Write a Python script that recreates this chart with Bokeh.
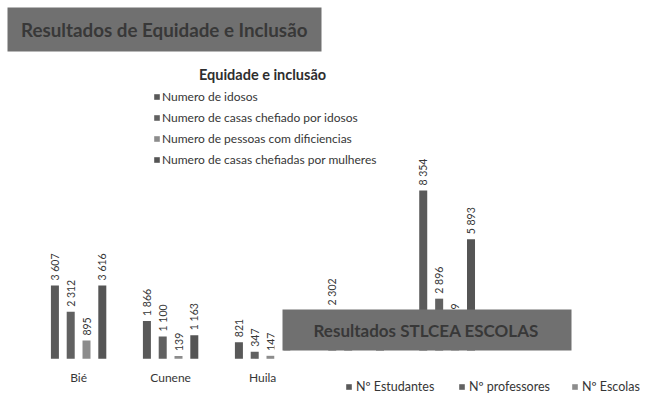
import math

from bokeh.core.properties import value
from bokeh.embed import file_html
from bokeh.models import (BoxAnnotation, ColumnDataSource, Label, Legend,
                          LegendItem, Range1d)
from bokeh.plotting import figure
from bokeh.resources import INLINE

# ---- Equidade e inclusão -------------------------------------------------
provincias = ["Bié", "Cunene", "Huila"]
eq_series = [
    "Numero de idosos",
    "Numero de casas chefiado por idosos",
    "Numero de pessoas com dificiencias",
    "Numero de casas chefiadas por mulheres",
]
idosos = [3607, 1866, 821]
casas_idosos = [2312, 1100, 347]
deficiencias = [895, 139, 147]
casas_mulheres = [3616, 1163, 420]

# ---- Resultados STLCEA escolas --------------------------------------------
stl_series = ["Nº Estudantes", "Nº professores", "Nº Escolas"]
estudantes = [2302, 8354]
professores = [640, 2896]
escolas = [12, 1039]
stl_quarta = [480, 5893]

FONT = "Lato"
TEXT = "#363636"
W, H = 651, 394


def fmt(v):
    return f"{v:,}".replace(",", " ")


p = figure(
    width=W, height=H,
    x_range=Range1d(-0.849, 6.227),
    y_range=Range1d(-1759, 17650),
    output_backend="svg", toolbar_location=None,
    x_axis_location=None, y_axis_location=None,
    min_border=0, outline_line_color=None,
    background_fill_color="white", border_fill_color="white",
)
p.grid.visible = False
p.extra_x_ranges = {"stl": Range1d(-3.908, 3.246)}
p.extra_y_ranges = {"stl": Range1d(-1944, 17955)}


def grouped_bars(values, colors, step, width, range_name=None):
    extra = {} if range_name is None else dict(x_range_name=range_name,
                                               y_range_name=range_name)
    n = len(values)
    renderers = []
    for k, (vals, color) in enumerate(zip(values, colors)):
        xs = [i + (k - (n - 1) / 2) * step for i in range(len(vals))]
        src = ColumnDataSource(dict(x=xs, top=vals, lbl=[fmt(v) for v in vals]))
        r = p.vbar(x="x", top="top", bottom=0, width=width, source=src,
                   fill_color=color, line_color=None, **extra)
        p.text(x="x", y="top", text="lbl", source=src, angle=math.pi / 2,
               text_align="left", text_baseline="middle", y_offset=-5,
               text_font=value(FONT), text_font_size="10.5px",
               text_color=TEXT, **extra)
        renderers.append(r)
    return renderers


eq_colors = ["#595959", "#616161", "#8c8c8c", "#555555"]
eq_r = grouped_bars([idosos, casas_idosos, deficiencias, casas_mulheres],
                    eq_colors, step=0.1717, width=0.087)

# category names under the first chart
p.text(x=list(range(len(provincias))), y=[0] * len(provincias), text=provincias,
       y_offset=19, text_align="center", text_baseline="middle",
       text_font=value(FONT), text_font_size="12px", text_color=TEXT)

stl_colors = ["#5a5a5a", "#626262", "#8c8c8c", "#555555"]
stl_r = grouped_bars([estudantes, professores, escolas, stl_quarta],
                     stl_colors, step=0.175, width=0.088, range_name="stl")


def screen_box(left, right, top, bottom, color):
    p.add_layout(BoxAnnotation(
        left=left, right=right, top=H - top, bottom=H - bottom,
        left_units="screen", right_units="screen",
        top_units="screen", bottom_units="screen",
        fill_color=color, fill_alpha=1, line_color=None))


def title_box(left, right, top, bottom, text, tx, size):
    screen_box(left, right, top, bottom, "#707070")
    p.add_layout(Label(
        x=tx, y=H - (top + bottom) / 2, x_units="screen", y_units="screen",
        text=text, text_font=FONT, text_font_style="bold",
        text_font_size=size, text_color="#383838",
        text_align="left", text_baseline="middle"))


title_box(7, 321, 7, 51, "Resultados de Equidade e Inclusão", 20.5, "18.8px")

# chart title and legend of the first chart
p.add_layout(Label(
    x=262, y=H - 73.5, x_units="screen", y_units="screen",
    text="Equidade e inclusão", text_font=FONT, text_font_style="bold",
    text_font_size="14.5px", text_color="#2e2e2e",
    text_align="center", text_baseline="middle"))

legend_eq = Legend(
    items=[LegendItem(label=s, renderers=[r]) for s, r in zip(eq_series, eq_r)],
    location=(153, 227), orientation="vertical",
    glyph_width=7, glyph_height=7, label_standoff=2,
    label_height=14, spacing=6, padding=0, margin=0,
    label_text_font=FONT, label_text_font_size="12px",
    label_text_color=TEXT, label_text_baseline="middle",
    background_fill_alpha=0, border_line_alpha=0)
p.add_layout(legend_eq)

# white panel of the second chart around the foot of its title box
screen_box(280, 576, 350, 363, "white")
screen_box(274, 283, 318, 363, "white")
title_box(282, 571, 309, 350, "Resultados STLCEA ESCOLAS", 313, "17px")

legend_stl = Legend(
    items=[LegendItem(label=s, renderers=[r]) for s, r in zip(stl_series, stl_r)],
    location=(345, 0), orientation="horizontal",
    glyph_width=7, glyph_height=7, label_standoff=4, label_width=96,
    label_height=14, spacing=6, padding=0, margin=0,
    label_text_font=FONT, label_text_font_size="12.5px",
    label_text_color=TEXT, label_text_baseline="middle",
    background_fill_alpha=0, border_line_alpha=0)
p.add_layout(legend_stl)

with open("out.html", "w") as f:
    f.write(file_html(p, INLINE))
